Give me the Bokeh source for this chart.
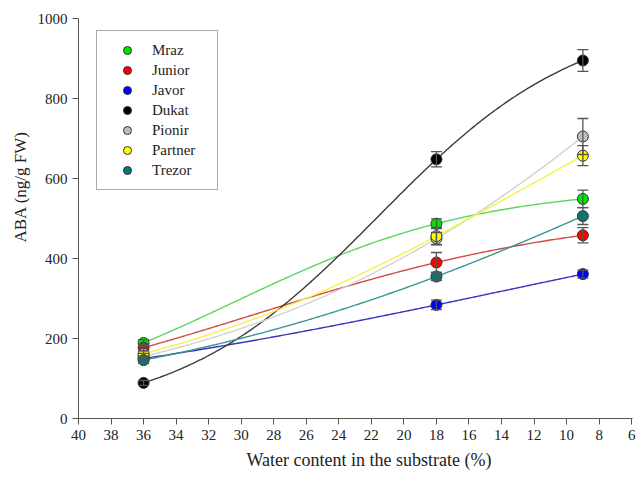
import numpy as np
from bokeh.plotting import figure
from bokeh.models import (Range1d, FixedTicker, ColumnDataSource, Whisker, TeeHead,
                          Legend, LegendItem, Title)
from bokeh.embed import file_html
from bokeh.resources import INLINE

# ---- data ----
water = [36, 18, 9]
cultivars = ["Mraz", "Junior", "Javor", "Dukat", "Pionir", "Partner", "Trezor"]
aba_mraz = [189, 487, 549]
aba_junior = [177, 390, 458]
aba_javor = [150, 284, 361]
aba_dukat = [89, 648, 895]
aba_pionir = [155, 450, 705]
aba_partner = [162, 456, 657]
aba_trezor = [146, 355, 506]
err_mraz = [8, 12, 22]
err_junior = [8, 25, 19]
err_javor = [6, 12, 10]
err_dukat = [6, 19, 27]
err_pionir = [8, 15, 45]
err_partner = [8, 22, 25]
err_trezor = [8, 10, 21]
x_ticks = [40, 38, 36, 34, 32, 30, 28, 26, 24, 22, 20, 18, 16, 14, 12, 10, 8, 6]
y_ticks = [0, 200, 400, 600, 800, 1000]
x_title = "Water content in the substrate (%)"
y_title = "ABA (ng/g FW)"

values = [aba_mraz, aba_junior, aba_javor, aba_dukat, aba_pionir, aba_partner, aba_trezor]
errors = [err_mraz, err_junior, err_javor, err_dukat, err_pionir, err_partner, err_trezor]
marker_colors = ["#00e600", "#ff0000", "#0000ff", "#000000", "#bdbdbd", "#ffff00", "#007a7a"]
line_colors = ["#5ed65e", "#d24b4b", "#3535c0", "#3a3a3a", "#d2d2d2", "#f2f24a", "#3f9393"]


def fit_sigmoid(x, y):
    """3-parameter sigmoid y = a / (1 + exp(b + c*x)) through the points."""
    x = np.asarray(x, float)
    y = np.asarray(y, float)

    def resid(a):
        L = np.log(a / y - 1.0)
        return (L[1] - L[0]) / (x[1] - x[0]) - (L[2] - L[1]) / (x[2] - x[1])

    lo, hi = y.max() * 1.000001, y.max() * 1e4
    if np.sign(resid(lo)) == np.sign(resid(hi)):
        coef = np.polyfit(x, y, 2)
        return lambda xx: np.polyval(coef, xx)
    for _ in range(200):
        mid = np.sqrt(lo * hi)
        if np.sign(resid(mid)) == np.sign(resid(lo)):
            lo = mid
        else:
            hi = mid
    a = np.sqrt(lo * hi)
    L = np.log(a / y - 1.0)
    c, b = np.polyfit(x, L, 1)
    return lambda xx: a / (1.0 + np.exp(b + c * xx))


SERIF = "Liberation Serif"
TXT = "#222222"

p = figure(width=636, height=476, output_backend="svg", toolbar_location=None,
           x_range=Range1d(40, 5.95), y_range=Range1d(0, 1000),
           min_border_left=78, min_border_top=18, min_border_right=4, min_border_bottom=58)
p.outline_line_color = None
p.grid.grid_line_color = None
p.background_fill_color = "white"

for ax in (p.xaxis, p.yaxis):
    ax.axis_line_color = "#555555"
    ax.major_tick_line_color = "#555555"
    ax.minor_tick_line_color = None
    ax.major_tick_in = 0
    ax.major_tick_out = 6
    ax.major_label_text_font = SERIF
    ax.major_label_text_font_size = "15px"
    ax.major_label_text_color = TXT

p.xaxis.ticker = FixedTicker(ticks=x_ticks)
p.yaxis.ticker = FixedTicker(ticks=y_ticks)
p.xaxis.major_label_standoff = 5
p.yaxis.major_label_standoff = 5

xt = Title(text=x_title, align="left", offset=168, standoff=10,
           text_font=SERIF, text_font_size="18px", text_font_style="normal", text_color=TXT)
p.add_layout(xt, "below")
yt = Title(text=y_title, align="left", offset=176, standoff=10,
           text_font=SERIF, text_font_size="17px", text_font_style="normal", text_color=TXT)
p.add_layout(yt, "left")

xx = np.linspace(water[0], water[-1], 300)
for vals, lc in zip(values, line_colors):
    f = fit_sigmoid(water, vals)
    p.line(xx, f(xx), line_color=lc, line_width=1.4)

scatter_renderers = []
for vals, errs, mc in zip(values, errors, marker_colors):
    src = ColumnDataSource(dict(x=water, y=vals,
                                upper=[v + e for v, e in zip(vals, errs)],
                                lower=[v - e for v, e in zip(vals, errs)]))
    w = Whisker(source=src, base="x", upper="upper", lower="lower", dimension="height",
                line_color="#555555", line_width=1.3,
                upper_head=TeeHead(size=11, line_color="#555555", line_width=1.3),
                lower_head=TeeHead(size=11, line_color="#555555", line_width=1.3))
    w.level = "glyph"
    p.add_layout(w)
    r = p.scatter("x", "y", source=src, size=11, fill_color=mc,
                  line_color="#333333", line_width=1)
    scatter_renderers.append(r)

legend = Legend(items=[LegendItem(label=n, renderers=[r]) for n, r in zip(cultivars, scatter_renderers)],
                location=(18, 228), glyph_width=42, glyph_height=20, label_height=20,
                spacing=0, padding=9, label_standoff=4, label_width=56,
                border_line_color="#555555", border_line_width=1,
                background_fill_color="white", background_fill_alpha=1,
                label_text_font=SERIF, label_text_font_size="15px", label_text_color=TXT)
p.add_layout(legend)

open("out.html", "w").write(file_html(p, INLINE))
